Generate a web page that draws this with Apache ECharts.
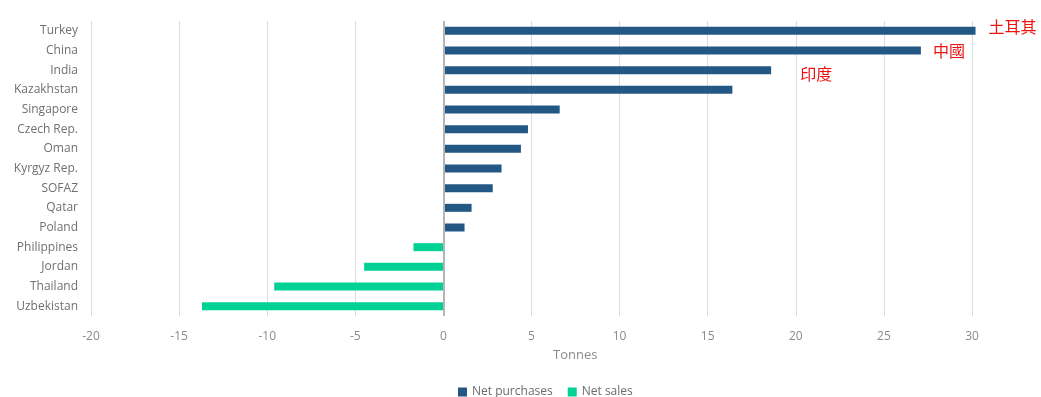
<!DOCTYPE html>
<html>
<head>
<meta charset="utf-8">
<script src="https://cdn.jsdelivr.net/npm/echarts@6/dist/echarts.min.js"></script>
<style>
  html, body { margin: 0; padding: 0; background: #fff; }
  #chart { width: 1041px; height: 397px; }
</style>
</head>
<body>
<div id="chart"></div>
<script>
// Central bank gold activity by country, in tonnes
const countries = ['Turkey', 'China', 'India', 'Kazakhstan', 'Singapore', 'Czech Rep.', 'Oman',
  'Kyrgyz Rep.', 'SOFAZ', 'Qatar', 'Poland', 'Philippines', 'Jordan', 'Thailand', 'Uzbekistan'];
const netPurchases = [30.2, 27.1, 18.6, 16.4, 6.6, 4.8, 4.4, 3.3, 2.8, 1.6, 1.2, null, null, null, null];
const netSales = [null, null, null, null, null, null, null, null, null, null, null, -1.7, -4.5, -9.6, -13.7];
const xTicks = { min: -20, max: 30, interval: 5 };
// Chinese names written beside the three largest buyers
const notes = { 'Turkey': '土耳其', 'China': '中國', 'India': '印度' };
const noteOffsets = { 'Turkey': [8, -4], 'China': [7, 0], 'India': [24, 4] };

const BLUE = '#235885';
const GREEN = '#02d196';
const FONT = '"Open Sans", "Noto Sans", sans-serif';

const purchaseData = netPurchases.map((v, i) => {
  const name = countries[i];
  if (!notes[name]) return v;
  return {
    value: v,
    label: {
      show: true, position: 'right', formatter: notes[name],
      offset: noteOffsets[name], color: '#ee1111', fontSize: 16,
      fontFamily: '"Noto Sans CJK TC", serif'
    }
  };
});

const chart = echarts.init(document.getElementById('chart'));
chart.setOption({
  animation: false,
  textStyle: { fontFamily: FONT },
  grid: { left: 91, right: 69, top: 21, bottom: 81, containLabel: false },
  legend: {
    top: 381, left: 453, itemWidth: 9, itemHeight: 9, itemGap: 15,
    icon: 'rect',
    textStyle: { color: '#6b6b6b', fontSize: 12, fontFamily: FONT },
    data: ['Net purchases', 'Net sales']
  },
  xAxis: {
    type: 'value', min: xTicks.min, max: xTicks.max, interval: xTicks.interval,
    axisLine: { show: false }, axisTick: { show: false },
    axisLabel: { color: '#8a8a8a', fontSize: 12, margin: 15, fontFamily: FONT },
    splitLine: { lineStyle: { color: '#dcdcdc', width: 1 } }
  },
  yAxis: {
    type: 'category', data: countries, inverse: true,
    axisLine: { show: false }, axisTick: { show: false },
    axisLabel: { color: '#707070', fontSize: 12, margin: 13, fontFamily: FONT }
  },
  graphic: [{
    type: 'text', left: 553, top: 349,
    style: { text: 'Tonnes', fill: '#8a8a8a', fontSize: 13, fontFamily: FONT }
  }],
  series: [
    {
      name: 'Net purchases', type: 'bar', data: purchaseData,
      barWidth: 8, barGap: '-100%', clip: false,
      itemStyle: { color: BLUE },
      markLine: {
        silent: true, symbol: 'none', label: { show: false },
        lineStyle: { color: '#b5b5b5', width: 2, type: 'solid' },
        data: [{ xAxis: 0 }]
      }
    },
    {
      name: 'Net sales', type: 'bar', data: netSales,
      barWidth: 8, barGap: '-100%', clip: false,
      itemStyle: { color: GREEN }
    }
  ]
});
</script>
</body>
</html>
